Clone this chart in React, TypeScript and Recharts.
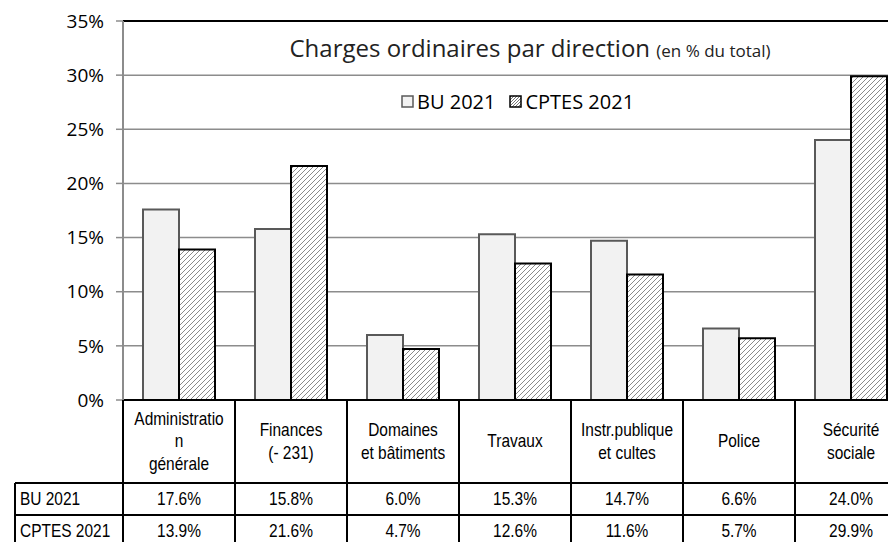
import React from "react";
import { BarChart, Bar, XAxis, YAxis, CartesianGrid, ReferenceLine } from "recharts";

// categories (line breaks as in the data table header)
const categories = [
  "Administratio\nn\ngénérale",
  "Finances\n(- 231)",
  "Domaines\net bâtiments",
  "Travaux",
  "Instr.publique\net cultes",
  "Police",
  "Sécurité\nsociale",
];
const bu2021 = [17.6, 15.8, 6.0, 15.3, 14.7, 6.6, 24.0];
const cptes2021 = [13.9, 21.6, 4.7, 12.6, 11.6, 5.7, 29.9];
const seriesNames = ["BU 2021", "CPTES 2021"];
const yTicks = [0, 5, 10, 15, 20, 25, 30, 35];

const data = categories.map((category, i) => ({
  category,
  bu: bu2021[i],
  cptes: cptes2021[i],
}));

const W = 920;
const H = 560;
const PLOT_LEFT = 123;
const PLOT_RIGHT = 907;
const AXIS_Y = 400;
const COL_W = (PLOT_RIGHT - PLOT_LEFT) / categories.length;
const HEADER_BOTTOM = 483;
const ROW1_BOTTOM = 515;
const ROW2_BOTTOM = 547;
const LABEL_LEFT = 15;

const narrow = "'Liberation Sans Narrow', 'Arial Narrow', 'Liberation Sans', Arial, sans-serif";
const humanist = "'Open Sans', 'Noto Sans', sans-serif";

const fmt = (v: number) => `${v.toFixed(1)}%`;

// condensed text: the table font is a narrow sans, so squeeze Liberation Sans a bit
function NText({ x, y, anchor = "middle", children }: any) {
  return (
    <g transform={`translate(${x},${y}) scale(0.86,1)`}>
      <text
        x={0}
        y={0}
        textAnchor={anchor}
        dominantBaseline="central"
        fontFamily={narrow}
        fontSize={18}
        fill="#000"
      >
        {children}
      </text>
    </g>
  );
}

function TableTick(props: any) {
  const { x, payload, index } = props;
  const right = x + COL_W / 2;
  const lines = String(payload.value).split("\n");
  const lh = 22.5;
  const mid = (AXIS_Y + HEADER_BOTTOM) / 2;
  const firstY = mid - ((lines.length - 1) * lh) / 2;
  const line = { stroke: "#000", strokeWidth: 2 };
  const r1 = (HEADER_BOTTOM + ROW1_BOTTOM) / 2;
  const r2 = (ROW1_BOTTOM + ROW2_BOTTOM) / 2;
  return (
    <g>
      {index === 0 && (
        <g>
          <line x1={PLOT_LEFT} y1={AXIS_Y} x2={PLOT_LEFT} y2={ROW2_BOTTOM} {...line} />
          <line x1={LABEL_LEFT} y1={HEADER_BOTTOM} x2={LABEL_LEFT} y2={ROW2_BOTTOM} {...line} />
          <line x1={LABEL_LEFT} y1={HEADER_BOTTOM} x2={PLOT_RIGHT} y2={HEADER_BOTTOM} {...line} />
          <line x1={LABEL_LEFT} y1={ROW1_BOTTOM} x2={PLOT_RIGHT} y2={ROW1_BOTTOM} {...line} />
          <line x1={LABEL_LEFT} y1={ROW2_BOTTOM} x2={PLOT_RIGHT} y2={ROW2_BOTTOM} {...line} />
          <NText x={LABEL_LEFT + 5} y={r1} anchor="start">{seriesNames[0]}</NText>
          <NText x={LABEL_LEFT + 5} y={r2} anchor="start">{seriesNames[1]}</NText>
        </g>
      )}
      <line x1={right} y1={AXIS_Y} x2={right} y2={ROW2_BOTTOM} {...line} />
      {lines.map((l, i) => (
        <NText key={i} x={x} y={firstY + i * lh}>{l}</NText>
      ))}
      <NText x={x} y={r1}>{fmt(bu2021[index])}</NText>
      <NText x={x} y={r2}>{fmt(cptes2021[index])}</NText>
    </g>
  );
}

function LegendIcon({ hatched }: { hatched: boolean }) {
  return (
    <svg width={13} height={13} style={{ marginRight: 3 }}>
      <defs>
        <pattern id="legHatch" width="3" height="3" patternUnits="userSpaceOnUse">
          <rect width="3" height="3" fill="#fff" />
          <path d="M0,3 L3,0" stroke="#777" strokeWidth="1" />
        </pattern>
      </defs>
      <rect
        x={1}
        y={1}
        width={11}
        height={11}
        fill={hatched ? "url(#legHatch)" : "#f2f2f2"}
        stroke={hatched ? "#000" : "#595959"}
        strokeWidth={1.5}
      />
    </svg>
  );
}

export default function App() {
  return (
    <div
      style={{
        position: "fixed",
        left: 0,
        top: 0,
        width: 888,
        height: 542,
        overflow: "hidden",
        background: "#fff",
      }}
    >
      <BarChart
        width={W}
        height={H}
        data={data}
        margin={{ top: 21, right: W - PLOT_RIGHT, left: 0, bottom: 0 }}
        barCategoryGap={20}
        barGap={0}
      >
        <defs>
          <pattern id="hatch" width="5" height="5" patternUnits="userSpaceOnUse">
            <rect width="5" height="5" fill="#fff" />
            <path d="M-1,1 L1,-1 M0,5 L5,0 M4,6 L6,4" stroke="#8a8a8a" strokeWidth="1" />
          </pattern>
        </defs>
        <CartesianGrid horizontal vertical={false} stroke="#8c8c8c" strokeWidth={1.5} />
        <ReferenceLine y={35} stroke="#000" strokeWidth={2} />
        <XAxis
          dataKey="category"
          height={H - AXIS_Y}
          interval={0}
          axisLine={{ stroke: "#000", strokeWidth: 2 }}
          tickLine={false}
          tickSize={0}
          tickMargin={0}
          tick={<TableTick />}
        />
        <YAxis
          width={PLOT_LEFT}
          domain={[0, 35]}
          ticks={yTicks}
          interval={0}
          tickFormatter={(v: number) => `${v}%`}
          axisLine={{ stroke: "#8c8c8c", strokeWidth: 2 }}
          tickLine={{ stroke: "#8c8c8c", strokeWidth: 1.5 }}
          tickSize={7}
          tickMargin={12}
          tick={{ fill: "#000", fontSize: 19, fontFamily: humanist }}
        />
        <Bar
          dataKey="bu"
          name={seriesNames[0]}
          fill="#f2f2f2"
          stroke="#595959"
          strokeWidth={2}
          isAnimationActive={false}
        />
        <Bar
          dataKey="cptes"
          name={seriesNames[1]}
          fill="url(#hatch)"
          stroke="#000"
          strokeWidth={2}
          isAnimationActive={false}
        />
      </BarChart>

      <div
        style={{
          position: "absolute",
          left: 230,
          width: 600,
          top: 31,
          textAlign: "center",
          fontFamily: humanist,
          fontSize: 24,
          color: "#222",
          whiteSpace: "nowrap",
        }}
      >
        Charges ordinaires par direction <span style={{ fontSize: 17 }}>(en % du total)</span>
      </div>

      <div
        style={{
          position: "absolute",
          left: 401,
          top: 88,
          display: "flex",
          alignItems: "center",
          fontFamily: humanist,
          fontSize: 20,
          color: "#000",
          whiteSpace: "nowrap",
        }}
      >
        <LegendIcon hatched={false} />
        <span style={{ marginRight: 14 }}>{seriesNames[0]}</span>
        <LegendIcon hatched />
        <span>{seriesNames[1]}</span>
      </div>
    </div>
  );
}
